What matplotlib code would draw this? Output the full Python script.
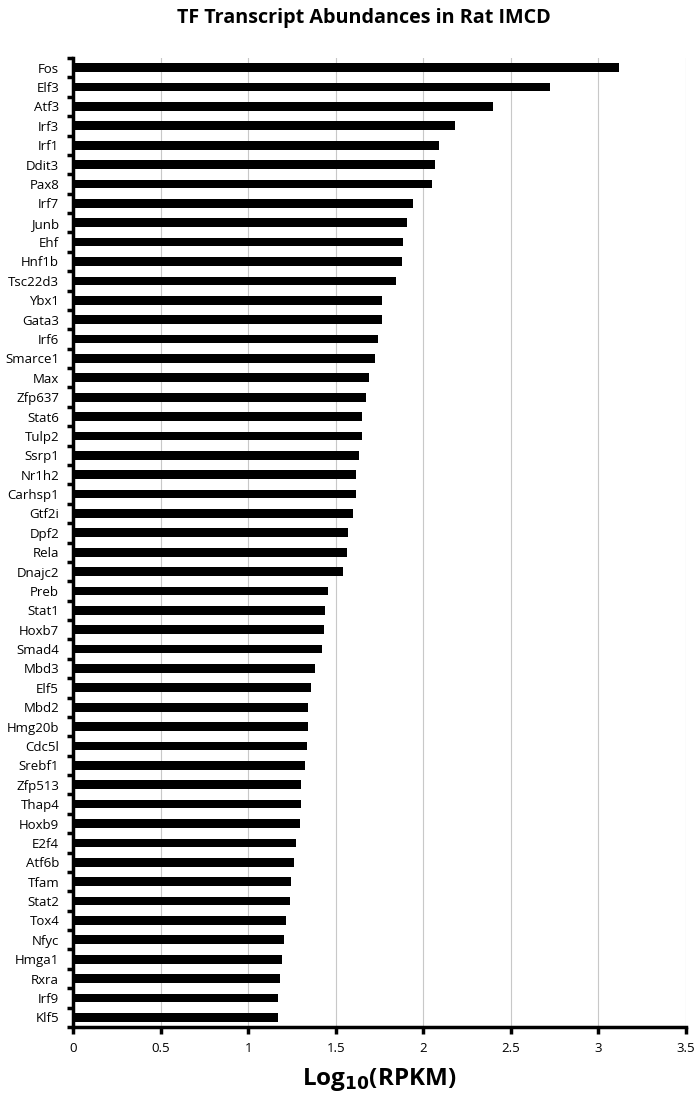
import matplotlib
matplotlib.use("Agg")
import matplotlib.pyplot as plt
import numpy as np

genes = ["Fos", "Elf3", "Atf3", "Irf3", "Irf1", "Ddit3", "Pax8", "Irf7", "Junb", "Ehf",
         "Hnf1b", "Tsc22d3", "Ybx1", "Gata3", "Irf6", "Smarce1", "Max", "Zfp637", "Stat6", "Tulp2",
         "Ssrp1", "Nr1h2", "Carhsp1", "Gtf2i", "Dpf2", "Rela", "Dnajc2", "Preb", "Stat1", "Hoxb7",
         "Smad4", "Mbd3", "Elf5", "Mbd2", "Hmg20b", "Cdc5l", "Srebf1", "Zfp513", "Thap4", "Hoxb9",
         "E2f4", "Atf6b", "Tfam", "Stat2", "Tox4", "Nfyc", "Hmga1", "Rxra", "Irf9", "Klf5"]
log_rpkm = [3.116, 2.726, 2.400, 2.183, 2.092, 2.069, 2.048, 1.941, 1.906, 1.883,
            1.880, 1.845, 1.763, 1.763, 1.743, 1.725, 1.692, 1.671, 1.651, 1.648,
            1.633, 1.618, 1.613, 1.597, 1.572, 1.567, 1.539, 1.455, 1.439, 1.434,
            1.424, 1.383, 1.361, 1.343, 1.343, 1.335, 1.327, 1.304, 1.299, 1.296,
            1.276, 1.263, 1.243, 1.238, 1.215, 1.207, 1.192, 1.180, 1.172, 1.169]
x_ticks = [0, 0.5, 1, 1.5, 2, 2.5, 3, 3.5]
x_tick_labels = ["0", "0.5", "1", "1.5", "2", "2.5", "3", "3.5"]

label_font = ["Open Sans", "DejaVu Sans"]

fig = plt.figure(figsize=(7, 11.04), dpi=100)
ax = fig.add_axes([73/700, 1 - 1027/1104, (686-73)/700, (1027-58)/1104])

n = len(genes)
pos = np.arange(n)
ax.barh(pos, log_rpkm, height=0.45, color="black", zorder=3)
ax.set_ylim(n - 0.5, -0.5)
ax.set_xlim(0, 3.5)

ax.set_yticks(pos)
ax.set_yticklabels(genes, family=label_font, fontsize=9.5)
ax.set_yticks(np.arange(-0.5, n, 1), minor=True)
ax.tick_params(axis="y", which="major", length=0, pad=10)
ax.tick_params(axis="y", which="minor", length=4, width=2.5, direction="out")

ax.set_xticks(x_ticks)
ax.set_xticklabels(x_tick_labels, family=label_font, fontsize=9.5)
ax.tick_params(axis="x", which="major", length=5, width=2.5, direction="out", pad=6)

ax.grid(axis="x", color="#c8c8c8", linewidth=0.8, zorder=0)
for side in ["top", "right"]:
    ax.spines[side].set_visible(False)
ax.spines["left"].set_linewidth(2.5)
ax.spines["bottom"].set_linewidth(2.5)

ax.set_xlabel(r"Log$_{\mathbf{10}}$(RPKM)", fontsize=17.5, fontweight="bold",
              family=["Open Sans", "DejaVu Sans"], labelpad=8)
fig.text(0.52, 1 - 18/1104, "TF Transcript Abundances in Rat IMCD", ha="center", va="center",
         fontsize=14.2, fontweight="bold", family=["Open Sans", "DejaVu Sans"])

fig.savefig("out.png", dpi=100)
